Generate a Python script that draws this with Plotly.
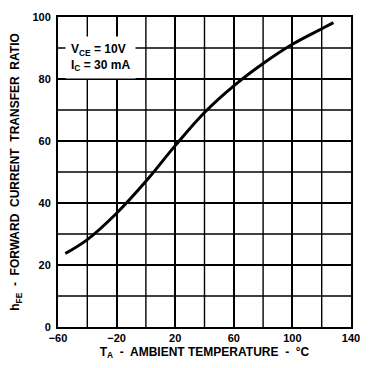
import plotly.graph_objects as go

temp_c = [-55, -40, -20, 0, 20, 40, 60, 80, 100, 120, 128]
hfe = [23.7, 28.2, 36.7, 47, 58.5, 69.2, 77.8, 85, 91.2, 96.2, 98.2]

x_ticks = [-60, -20, 20, 60, 100, 140]
y_ticks = [0, 20, 40, 60, 80, 100]
x_grid = [-40, 0, 40, 80, 120]
y_grid = [10, 30, 50, 70, 90]

FONT = "Liberation Sans, Arial, sans-serif"

fig = go.Figure()
fig.add_trace(go.Scatter(x=temp_c, y=hfe, mode="lines",
                         line=dict(color="black", width=3, shape="spline", smoothing=1.0),
                         showlegend=False, hoverinfo="skip"))

fig.update_layout(
    width=369, height=368,
    margin=dict(l=58, r=9, t=17, b=41),
    paper_bgcolor="white", plot_bgcolor="white",
    font=dict(family=FONT, color="black", size=12, weight="bold"),
)
fig.update_xaxes(
    range=[-60, 140], tickvals=x_ticks,
    showgrid=True, gridcolor="black", gridwidth=1.6,
    showline=True, linecolor="black", linewidth=2, mirror=True,
    ticks="", ticklabeloverflow="allow",
    tickfont=dict(size=11, family=FONT, weight="bold"),
    title=dict(text="T<sub>A</sub>  -  AMBIENT TEMPERATURE  -  °C", standoff=4,
               font=dict(size=12, family=FONT, weight="bold")),
    zeroline=False, fixedrange=True,
)
for xv in x_grid:
    fig.add_shape(type="line", x0=xv, x1=xv, y0=0, y1=100, xref="x", yref="y",
                  line=dict(color="black", width=1.4), layer="below")
fig.update_yaxes(
    range=[0, 100], tickvals=y_ticks,
    showgrid=True, gridcolor="black", gridwidth=1.6,
    showline=True, linecolor="black", linewidth=2, mirror=True,
    ticks="", ticklabelstandoff=3,
    tickfont=dict(size=11, family=FONT, weight="bold"),
    title=dict(text="h<sub>FE</sub>  -  FORWARD  CURRENT  TRANSFER  RATIO", standoff=10,
               font=dict(size=12, family=FONT, weight="bold")),
    zeroline=False, fixedrange=True,
)
for yv in y_grid:
    fig.add_shape(type="line", x0=-60, x1=140, y0=yv, y1=yv, xref="x", yref="y",
                  line=dict(color="black", width=1.4), layer="below")

fig.add_annotation(
    x=0.146, y=0.87, xref="paper", yref="paper", xanchor="center", yanchor="middle",
    text="V<sub>CE</sub> = 10V<br>I<sub>C</sub> = 30 mA",
    showarrow=False, align="left", bgcolor="white", borderpad=5,
    font=dict(size=12, family=FONT, weight="bold"),
)

fig.write_html("out.html")
